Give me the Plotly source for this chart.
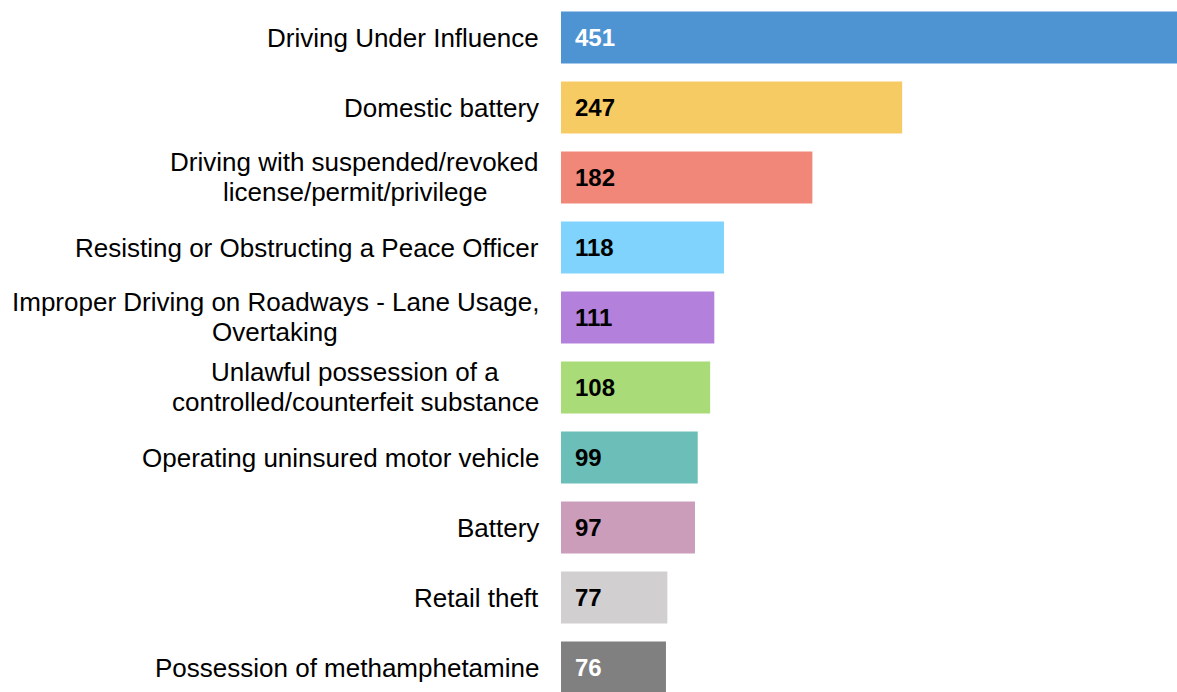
import plotly.graph_objects as go

categories = [
    "Driving Under Influence",
    "Domestic battery",
    "Driving with suspended/revoked<br>license/permit/privilege",
    "Resisting or Obstructing a Peace Officer",
    "Improper Driving on Roadways - Lane Usage,<br>Overtaking",
    "Unlawful possession of a<br>controlled/counterfeit substance",
    "Operating uninsured motor vehicle",
    "Battery",
    "Retail theft",
    "Possession of methamphetamine",
]
values = [451, 247, 182, 118, 111, 108, 99, 97, 77, 76]
colors = ["#4E94D3", "#F7CB63", "#F08778", "#80D3FD", "#B381DB",
          "#A9DB78", "#6CBFB8", "#CC9DBB", "#D1CFD0", "#808080"]
text_colors = ["#FFFFFF", "#000000", "#000000", "#000000", "#000000",
               "#000000", "#000000", "#000000", "#000000", "#FFFFFF"]

# layout helpers for two-line labels: pixel centre of the text block
# relative to the plot's left edge (lines are centred within the block)
block_centre = {2: -206.5, 4: -286, 5: -206}
line_yshift = [15.5, -14.5]
label_xshift = -20

idx = list(range(len(categories)))

fig = go.Figure(go.Bar(
    x=values, y=idx, orientation="h",
    marker=dict(color=colors, line=dict(width=0)),
    width=0.74, hoverinfo="skip",
))

label_font = dict(family="Liberation Sans, Arial, sans-serif", size=26, color="#000000")

annotations = []
for i, (cat, v, tc) in enumerate(zip(categories, values, text_colors)):
    lines = cat.split("<br>")
    if len(lines) == 1:
        annotations.append(dict(
            x=0, y=i, xref="paper", yref="y", text=cat, showarrow=False,
            xanchor="right", yanchor="middle", xshift=label_xshift,
            font=label_font,
        ))
    else:
        longest = max(range(len(lines)), key=lambda k: len(lines[k]))
        for k, ln in enumerate(lines):
            if k == longest:
                xa, xs = "right", label_xshift
            else:
                xa, xs = "center", block_centre[i]
            annotations.append(dict(
                x=0, y=i, xref="paper", yref="y", text=ln, showarrow=False,
                xanchor=xa, yanchor="middle", xshift=xs, yshift=line_yshift[k],
                font=label_font,
            ))
    annotations.append(dict(
        x=0, y=i, xref="x", yref="y", text="<b>%d</b>" % v, showarrow=False,
        xanchor="left", yanchor="middle", xshift=12,
        font=dict(family="Liberation Sans, Arial, sans-serif", size=24, color=tc),
    ))

fig.update_layout(
    width=1177, height=692,
    margin=dict(l=561, r=0, t=0, b=0, pad=0),
    paper_bgcolor="#FFFFFF", plot_bgcolor="#FFFFFF",
    showlegend=False,
    xaxis=dict(range=[0, 446], visible=False, fixedrange=True),
    yaxis=dict(range=[9.35, -0.536], visible=False, fixedrange=True),
    annotations=annotations,
)

fig.write_html(
    "out.html",
    config={"displayModeBar": False},
    post_script="document.body.style.margin='0';document.body.style.overflow='hidden';",
)
